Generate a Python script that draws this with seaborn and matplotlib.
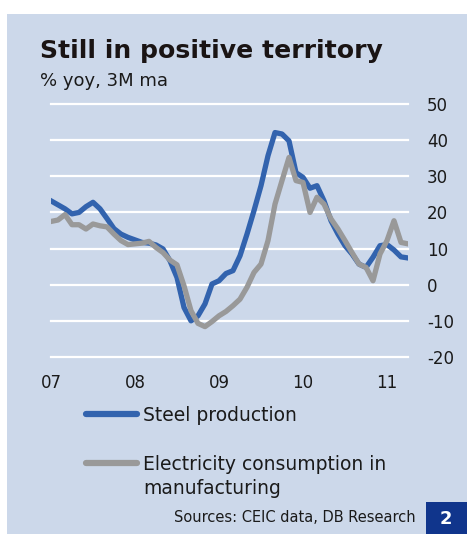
import numpy as np
import pandas as pd
import matplotlib
matplotlib.use("Agg")
import matplotlib.pyplot as plt
import seaborn as sns
from matplotlib.patches import Rectangle
from matplotlib.lines import Line2D

plt.rcParams["axes.unicode_minus"] = False

# ---- data (monthly, Jan 2007 - Apr 2011), % yoy, 3M ma ----
month_index = list(range(52))
steel = [23.2, 22.1, 21.0, 19.6, 20.0, 21.6, 22.8, 21.0, 18.3, 15.5, 14.0, 13.1,
         12.4, 11.7, 11.5, 11.0, 9.9, 6.6, 2.0, -6.3, -10.0, -8.6, -5.3, 0.2,
         1.1, 3.1, 3.9, 8.0, 14.0, 20.5, 27.4, 35.7, 42.1, 41.7, 39.8, 31.0,
         29.7, 26.7, 27.4, 23.2, 17.7, 14.0, 10.8, 8.5, 5.7, 4.8, 7.6, 10.8,
         11.1, 9.6, 7.7, 7.4]
electricity = [17.5, 17.9, 19.4, 16.6, 16.6, 15.4, 16.8, 16.3, 16.0, 14.0, 12.2, 11.1,
               11.3, 11.5, 12.0, 10.3, 8.9, 6.8, 5.5, -0.3, -7.2, -10.7, -11.6, -10.2,
               -8.6, -7.4, -5.8, -4.0, -0.7, 3.4, 5.7, 12.2, 22.3, 28.8, 35.2, 28.8,
               28.3, 20.0, 24.2, 22.3, 18.2, 15.4, 12.2, 8.9, 5.7, 4.8, 1.1, 8.5,
               12.2, 17.7, 11.7, 11.3]
year_ticks = [0, 12, 24, 36, 48]
year_labels = ["07", "08", "09", "10", "11"]
y_ticks = [-20, -10, 0, 10, 20, 30, 40, 50]
series_names = ["Steel production", "Electricity consumption in manufacturing"]

df = pd.DataFrame({"month": month_index * 2,
                   "value": steel + electricity,
                   "series": [series_names[0]] * 52 + [series_names[1]] * 52})

BG = "#CCD8EA"
BLUE = "#3263AE"
GREY = "#999999"
DARK = "#10358C"

W, H = 467, 534
fig = plt.figure(figsize=(W / 100, H / 100), dpi=100)
fig.patch.set_facecolor("white")
fig.patches.append(Rectangle((7 / W, 0), 1 - 7 / W, (H - 14) / H,
                             transform=fig.transFigure, facecolor=BG,
                             edgecolor="none", zorder=-10))

ax = fig.add_axes([51 / W, (H - 357) / H, 357 / W, 253 / H])
ax.set_facecolor("none")

sns.lineplot(data=df, x="month", y="value", hue="series",
             palette={series_names[0]: BLUE, series_names[1]: GREY},
             linewidth=3.8, ax=ax, legend=False)

ax.set_xlim(0, 51)
ax.set_ylim(-20, 50)
ax.set_xticks(year_ticks)
ax.set_xticklabels(year_labels)
ax.set_yticks(y_ticks)
ax.set_yticklabels([str(v) for v in y_ticks])
ax.yaxis.tick_right()
ax.set_xlabel("")
ax.set_ylabel("")
for s in ax.spines.values():
    s.set_visible(False)
ax.grid(axis="y", color="white", linewidth=1.6)
ax.grid(axis="x", visible=False)
ax.set_axisbelow(True)
for gl in ax.get_ygridlines():
    gl.set_clip_on(False)
ax.tick_params(axis="y", length=0, pad=13.5, labelsize=12, labelcolor="#1a1a1a")
ax.tick_params(axis="x", length=0, pad=12, labelsize=12, labelcolor="#1a1a1a")

# legend
fs_leg = 13.5
handles = [Line2D([], [], color=BLUE, lw=4.5, solid_capstyle="round"),
           Line2D([], [], color=GREY, lw=4.5, solid_capstyle="round")]
ax.legend(handles=handles, labels=["Steel production", "Electricity consumption in"],
          loc="upper left", bbox_to_anchor=(86 / W, (H - 406) / H),
          bbox_transform=fig.transFigure, frameon=False, fontsize=fs_leg,
          handlelength=2.7, handletextpad=0.32, labelspacing=1.6,
          borderpad=0, borderaxespad=0, labelcolor="#1a1a1a")
fig.text(143 / W, (H - 488) / H, "manufacturing", fontsize=fs_leg,
         va="center", ha="left", color="#1a1a1a")

# titles
title = fig.text(40 / W, (H - 58) / H, "Still in positive territory",
                 fontsize=20, fontweight="heavy", va="baseline", ha="left",
                 color="#1a1414")
fig.text(40 / W, (H - 86) / H, "% yoy, 3M ma", fontsize=13, va="baseline",
         ha="left", color="#1a1a1a")

# sources & chart number box
fig.text(416 / W, (H - 518) / H, "Sources: CEIC data, DB Research",
         fontsize=10.5, ha="right", va="center", color="#1a1a1a")
fig.patches.append(Rectangle((426 / W, 0), 41 / W, 32 / H,
                             transform=fig.transFigure, facecolor=DARK,
                             edgecolor="none", zorder=-5))
fig.text(446 / W, (H - 519) / H, "2", fontsize=13, fontweight="bold",
         color="white", ha="center", va="center")

# fit title width to reference
fig.canvas.draw()
r = fig.canvas.get_renderer()
w = title.get_window_extent(r).width
title.set_fontsize(20 * 343 / w)

fig.savefig("out.png", dpi=100)
